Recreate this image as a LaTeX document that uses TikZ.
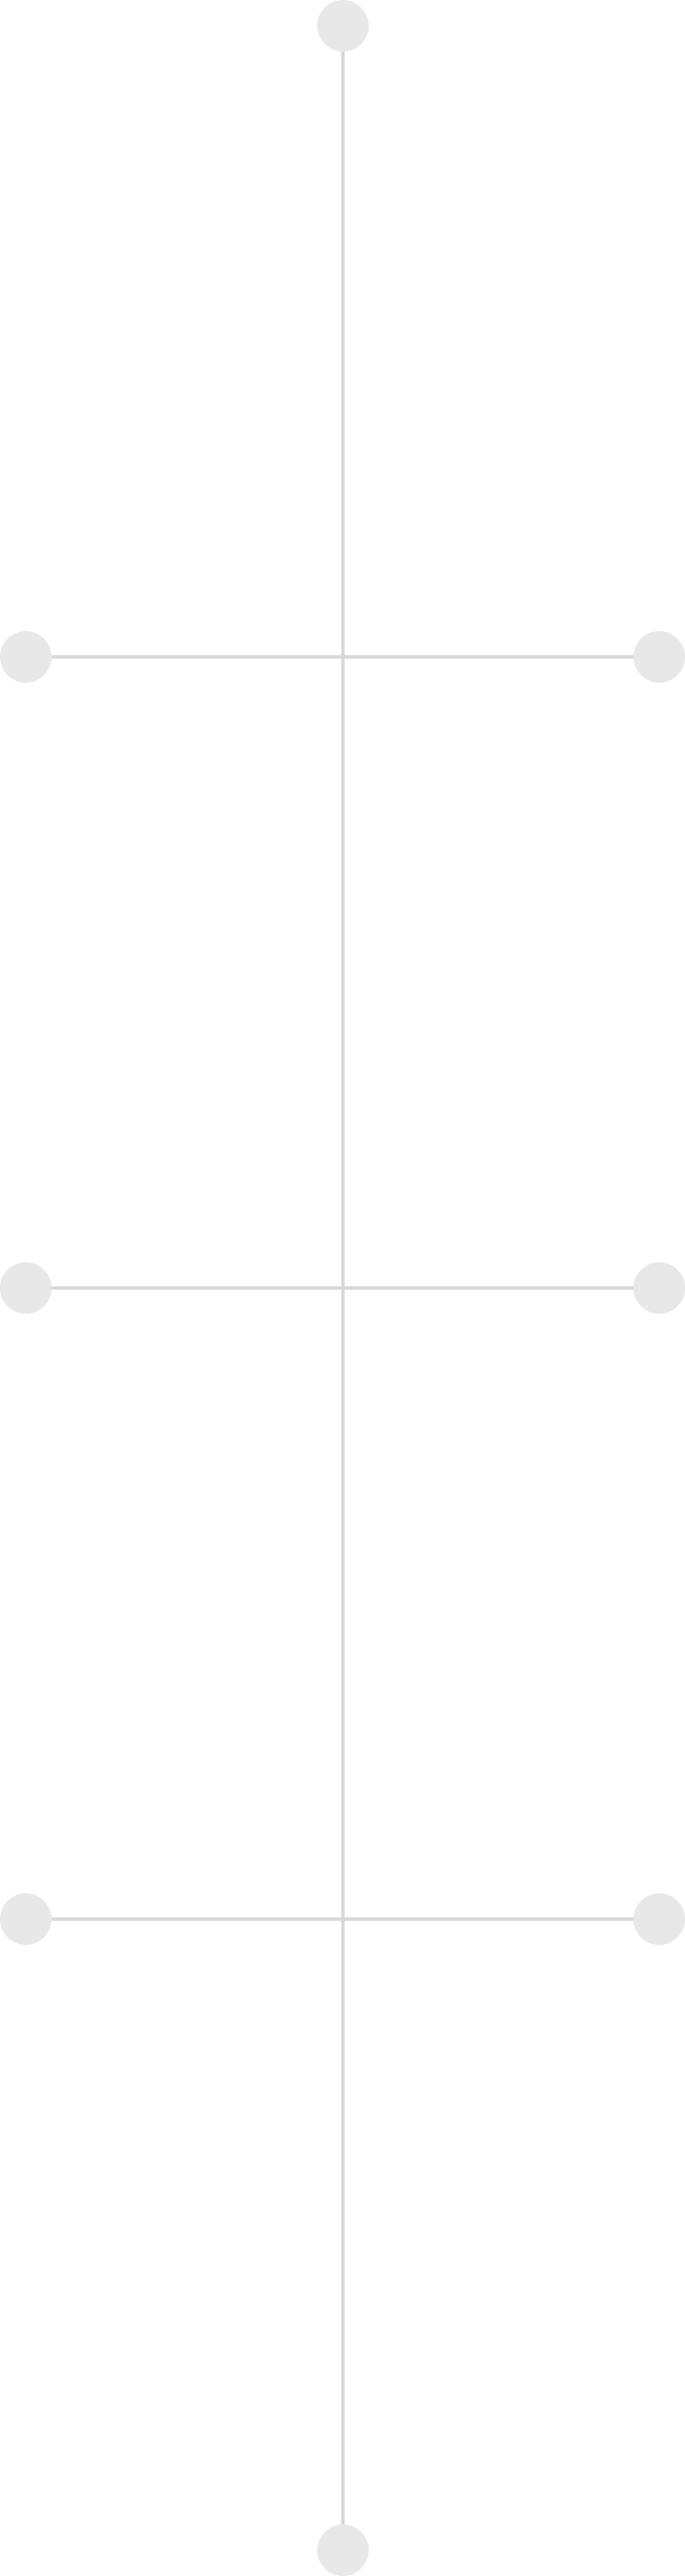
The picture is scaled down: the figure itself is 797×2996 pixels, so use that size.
\documentclass[tikz,border=0pt]{standalone}
\definecolor{dotgrey}{HTML}{E8E8E8}
\definecolor{linegrey}{HTML}{D9D9D9}
\tikzset{
  dot/.style={circle,fill=dotgrey,draw=none,minimum size=60pt,inner sep=0pt},
  link/.style={draw=linegrey,line width=3.5pt}
}
\begin{document}
\begin{tikzpicture}[x=1pt,y=-1pt]
\useasboundingbox (0,0) rectangle (797,2996);
\node[dot] (top) at (399,30) {};
\node[dot] (bot) at (399,2966) {};
\node[dot] (l1) at (30,764) {};
\node[dot] (r1) at (767,764) {};
\node[dot] (l2) at (30,1498) {};
\node[dot] (r2) at (767,1498) {};
\node[dot] (l3) at (30,2232) {};
\node[dot] (r3) at (767,2232) {};
\draw[link] (top) -- (bot);
\draw[link] (l1) -- (r1);
\draw[link] (l2) -- (r2);
\draw[link] (l3) -- (r3);
\end{tikzpicture}
\end{document}
